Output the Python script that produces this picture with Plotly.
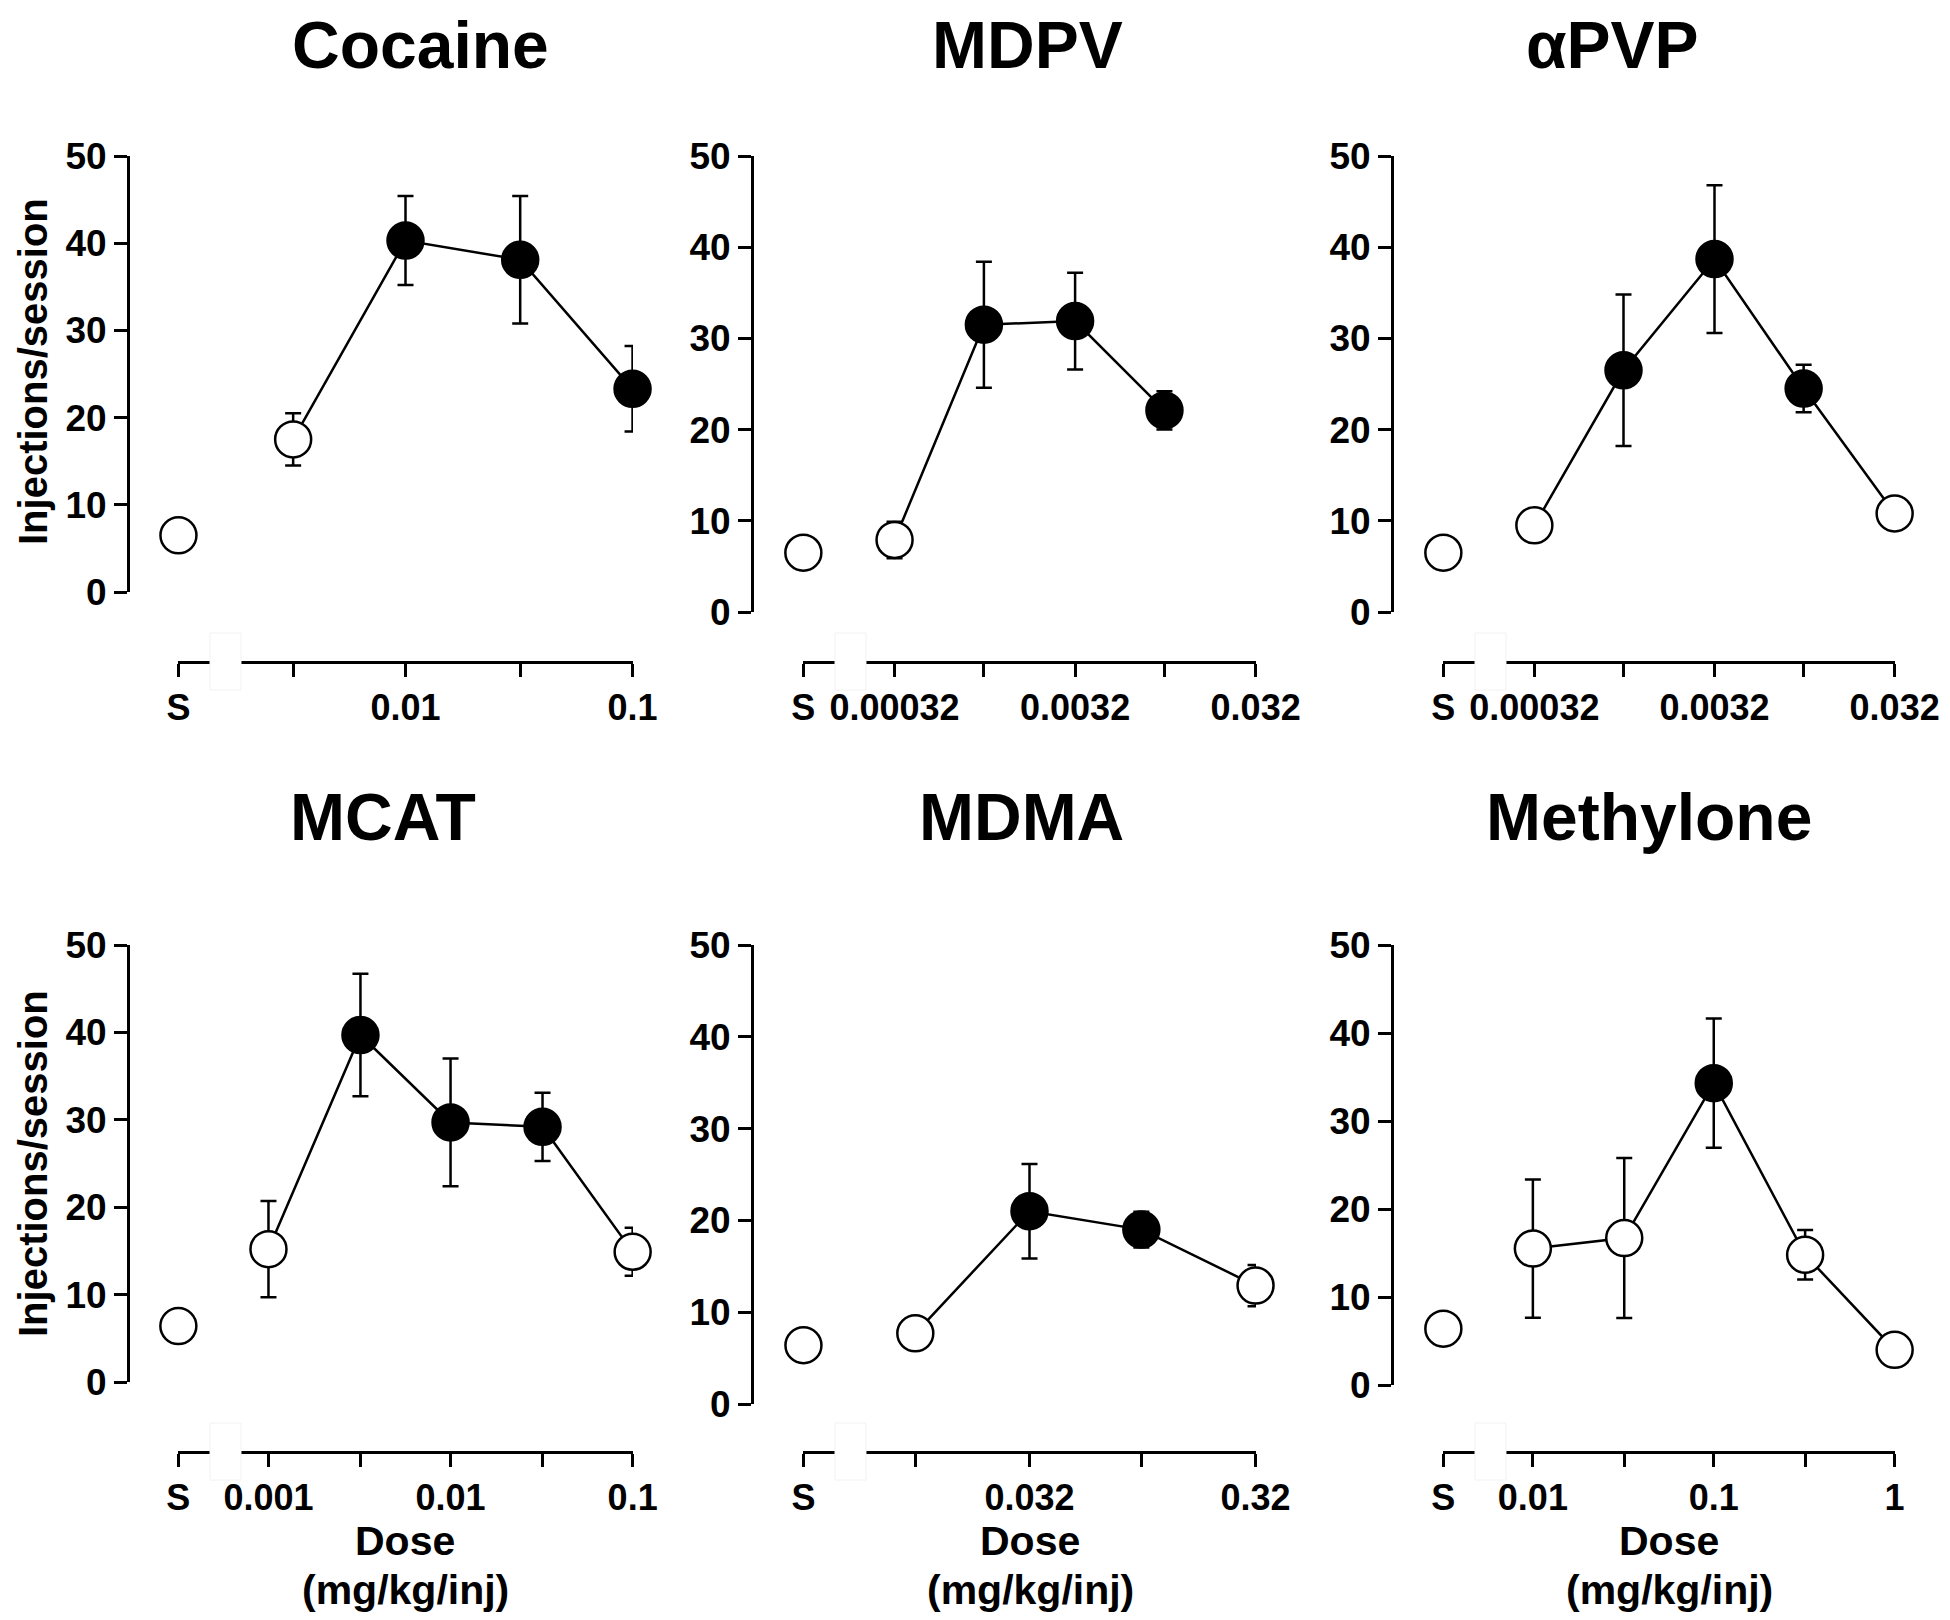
import math
import plotly.graph_objects as go

# page body has an 8px margin: figure is sized so page fits the 1950x1620 window
OFF = 8
W, H = 1950 - 2 * OFF, 1620 - 2 * OFF
FONT = "Liberation Sans"

# ---------------- data ----------------
titles = ["Cocaine", "MDPV", "αPVP", "MCAT", "MDMA", "Methylone"]

cocaine_doses = [0.0032, 0.01, 0.032, 0.1]
cocaine_mean = [17.5, 40.3, 38.1, 23.3]
cocaine_sem = [3.0, 5.1, 7.3, 4.9]
cocaine_filled = [False, True, True, True]
cocaine_saline = 6.5
cocaine_ticks = [0.001, 0.0032, 0.01, 0.032, 0.1]
cocaine_ticklabels = ["S", "", "0.01", "", "0.1"]

mdpv_doses = [0.00032, 0.001, 0.0032, 0.01]
mdpv_mean = [7.9, 31.5, 31.9, 22.1]
mdpv_sem = [2.0, 6.9, 5.3, 2.1]
mdpv_filled = [False, True, True, True]
mdpv_saline = 6.5
mdpv_ticks = [0.0001, 0.00032, 0.001, 0.0032, 0.01, 0.032]
mdpv_ticklabels = ["S", "0.00032", "", "0.0032", "", "0.032"]

apvp_doses = [0.00032, 0.001, 0.0032, 0.01, 0.032]
apvp_mean = [9.5, 26.5, 38.7, 24.5, 10.8]
apvp_sem = [1.0, 8.3, 8.1, 2.6, 1.0]
apvp_filled = [False, True, True, True, False]
apvp_saline = 6.5
apvp_ticks = [0.0001, 0.00032, 0.001, 0.0032, 0.01, 0.032]
apvp_ticklabels = ["S", "0.00032", "", "0.0032", "", "0.032"]

mcat_doses = [0.001, 0.0032, 0.01, 0.032, 0.1]
mcat_mean = [15.2, 39.7, 29.7, 29.2, 14.9]
mcat_sem = [5.5, 7.0, 7.3, 3.9, 2.75]
mcat_filled = [False, True, True, True, False]
mcat_saline = 6.4
mcat_ticks = [0.00032, 0.001, 0.0032, 0.01, 0.032, 0.1]
mcat_ticklabels = ["S", "0.001", "", "0.01", "", "0.1"]

mdma_doses = [0.01, 0.032, 0.1, 0.32]
mdma_mean = [7.7, 21.0, 19.0, 12.9]
mdma_sem = [1.0, 5.15, 1.95, 2.25]
mdma_filled = [False, True, True, False]
mdma_saline = 6.4
mdma_ticks = [0.0032, 0.01, 0.032, 0.1, 0.32]
mdma_ticklabels = ["S", "", "0.032", "", "0.32"]

methylone_doses = [0.01, 0.032, 0.1, 0.32, 1]
methylone_mean = [15.5, 16.7, 34.3, 14.8, 4.0]
methylone_sem = [7.85, 9.1, 7.35, 2.8, 1.0]
methylone_filled = [False, False, True, False, False]
methylone_saline = 6.4
methylone_ticks = [0.0032, 0.01, 0.032, 0.1, 0.32, 1]
methylone_ticklabels = ["S", "0.01", "", "0.1", "", "1"]

y_ticks = [0, 10, 20, 30, 40, 50]
y_label = "Injections/session"
x_label = "Dose"
x_unit = "(mg/kg/inj)"

panels = [
    (cocaine_doses, cocaine_mean, cocaine_sem, cocaine_filled, cocaine_saline, cocaine_ticks, cocaine_ticklabels),
    (mdpv_doses, mdpv_mean, mdpv_sem, mdpv_filled, mdpv_saline, mdpv_ticks, mdpv_ticklabels),
    (apvp_doses, apvp_mean, apvp_sem, apvp_filled, apvp_saline, apvp_ticks, apvp_ticklabels),
    (mcat_doses, mcat_mean, mcat_sem, mcat_filled, mcat_saline, mcat_ticks, mcat_ticklabels),
    (mdma_doses, mdma_mean, mdma_sem, mdma_filled, mdma_saline, mdma_ticks, mdma_ticklabels),
    (methylone_doses, methylone_mean, methylone_sem, methylone_filled, methylone_saline, methylone_ticks, methylone_ticklabels),
]

# ---------------- layout geometry (screen pixels) ----------------
# (y-axis x, first tick x, last tick x, y=50 px, y=0 px, x-axis line px)
geom = [
    (128, 178, 633, 156, 592, 662),
    (752, 803, 1256, 156, 612, 662),
    (1392, 1443, 1895, 156, 612, 662),
    (128, 178, 633, 945, 1382, 1452),
    (752, 803, 1256, 945, 1404, 1452),
    (1392, 1443, 1895, 945, 1385, 1452),
]
title_pos = [(420, 45), (1027, 45), (1612, 45), (383, 817), (1021, 817), (1649, 817)]
ylabel_pos = [(33, 372), (33, 1164)]
xlabel_x = [405, 1030, 1669]
dose_y, unit_y = 1541, 1590
EPS = 0.002


def px(x):
    return (x - OFF) / W


def py(y):
    return 1 - (y - OFF) / H


fig = go.Figure()
layout = dict(
    width=W, height=H,
    margin=dict(l=0, r=0, t=0, b=0, pad=0),
    paper_bgcolor="white", plot_bgcolor="white",
    showlegend=False,
    font=dict(family=FONT, color="black", weight="bold"),
)
shapes = []
annotations = []

for i, (doses, mean, sem, filled, saline, ticks, ticklabels) in enumerate(panels):
    yx, sx, lx, ytop, yzero, xaxis_py = geom[i]
    xa = "xaxis" if i == 0 else f"xaxis{i+1}"
    ya = "yaxis" if i == 0 else f"yaxis{i+1}"
    xr = "x" if i == 0 else f"x{i+1}"
    yr = "y" if i == 0 else f"y{i+1}"

    layout[xa] = dict(
        type="log", domain=[px(sx), px(lx)],
        range=[math.log10(ticks[0]) - EPS, math.log10(ticks[-1]) + EPS],
        anchor="free", position=py(xaxis_py), automargin=False,
        showline=True, linecolor="black", linewidth=3,
        ticks="outside", ticklen=13, tickwidth=3, tickcolor="black",
        tickvals=ticks, ticktext=ticklabels,
        tickfont=dict(family=FONT, size=36, color="black", weight="bold"),
        showgrid=False, zeroline=False,
    )
    layout[ya] = dict(
        domain=[py(yzero), py(ytop)], range=[0, 50],
        anchor="free", position=px(yx), automargin=False,
        showline=True, linecolor="black", linewidth=3,
        ticks="outside", ticklen=13, tickwidth=3, tickcolor="black",
        tickvals=y_ticks,
        tickfont=dict(family=FONT, size=37, color="black", weight="bold"),
        showgrid=False, zeroline=False,
    )

    # dose-response
    fig.add_trace(go.Scatter(
        x=doses, y=mean, xaxis=xr, yaxis=yr, mode="lines+markers",
        line=dict(color="black", width=2.5),
        marker=dict(size=36, color=["black" if f else "white" for f in filled],
                    line=dict(color="black", width=2.5)),
        error_y=dict(type="data", array=sem, visible=True, color="black",
                     thickness=2.5, width=8),
        cliponaxis=False,
    ))
    # saline
    fig.add_trace(go.Scatter(
        x=[ticks[0]], y=[saline], xaxis=xr, yaxis=yr, mode="markers",
        marker=dict(size=36, color="white", line=dict(color="black", width=2.5)),
        cliponaxis=False,
    ))

    # axis break
    shapes.append(dict(
        type="rect", xref="paper", yref="paper", layer="above",
        x0=px(sx + 32), x1=px(sx + 63),
        y0=py(xaxis_py + 28), y1=py(xaxis_py - 29),
        fillcolor="white", line=dict(color="#f2f2f2", width=1),
    ))

    tx, ty = title_pos[i]
    annotations.append(dict(
        text=titles[i], x=px(tx), y=py(ty), xref="paper", yref="paper",
        xanchor="center", yanchor="middle", showarrow=False,
        font=dict(family=FONT, size=66, color="black", weight="bold"),
    ))

for (lx_, ly_) in ylabel_pos:
    annotations.append(dict(
        text=y_label, x=px(lx_), y=py(ly_), xref="paper", yref="paper",
        xanchor="center", yanchor="middle", showarrow=False, textangle=-90,
        font=dict(family=FONT, size=40, color="black", weight="bold"),
    ))

for cx in xlabel_x:
    annotations.append(dict(
        text=x_label, x=px(cx), y=py(dose_y), xref="paper", yref="paper",
        xanchor="center", yanchor="middle", showarrow=False,
        font=dict(family=FONT, size=41, color="black", weight="bold"),
    ))
    annotations.append(dict(
        text=x_unit, x=px(cx), y=py(unit_y), xref="paper", yref="paper",
        xanchor="center", yanchor="middle", showarrow=False,
        font=dict(family=FONT, size=41, color="black", weight="bold"),
    ))

layout["shapes"] = shapes
layout["annotations"] = annotations
fig.update_layout(**layout)
fig.write_html("out.html")
